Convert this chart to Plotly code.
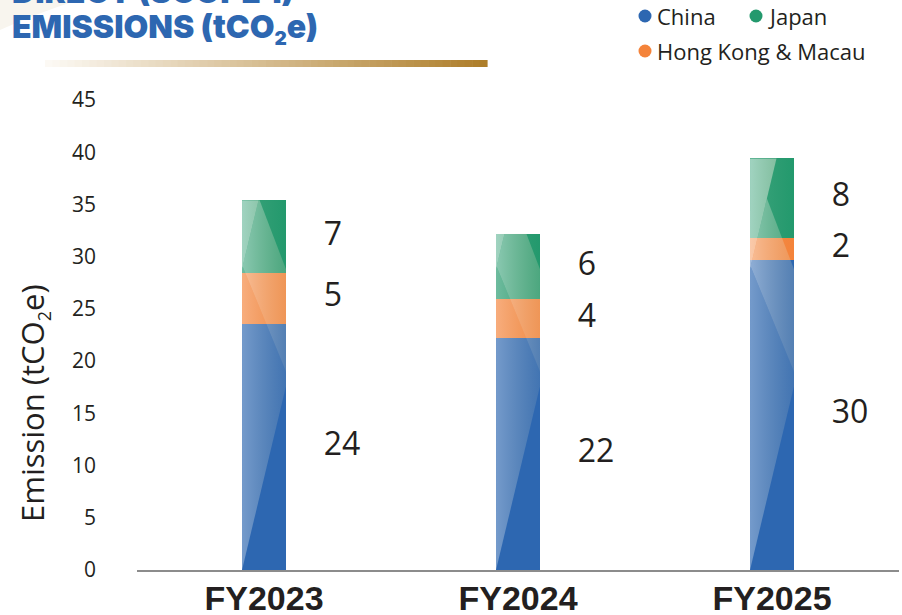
import plotly.graph_objects as go

# ---- data -------------------------------------------------------------
years = ["FY2023", "FY2024", "FY2025"]
china = [23.6, 22.2, 29.7]
hk_macau = [4.8, 3.7, 2.1]
japan = [7.0, 6.3, 7.6]

series_names = ["China", "Hong Kong & Macau", "Japan"]
series_values = [china, hk_macau, japan]
series_colors = ["#2D67B1", "#F4833A", "#23996D"]

y_ticks = [0, 5, 10, 15, 20, 25, 30, 35, 40, 45]

# ---- layout geometry (pixels) -----------------------------------------
FIG_W, FIG_H = 902, 615
M_L, M_R, M_T, M_B = 137, 3, 100, 45
PLOT_W = FIG_W - M_L - M_R
PLOT_H = FIG_H - M_T - M_B
BAR_W = 0.173
TEXT_FONT = "Open Sans"
INK = "#231F20"


def px_x(px):
    return (px - M_L) / PLOT_W


def px_y(py):
    return (FIG_H - M_B - py) / PLOT_H


x_pos = list(range(len(years)))
totals = [sum(v) for v in zip(*series_values)]

fig = go.Figure()

# stacked bars
for name, vals, col in zip(series_names, series_values, series_colors):
    fig.add_trace(go.Bar(
        x=x_pos, y=vals, name=name, width=BAR_W,
        marker=dict(color=col, line=dict(width=0)),
        showlegend=False, hoverinfo="skip",
    ))

# ---- glossy facet overlay on each bar -----------------------------------
# facet lines in (u across bar 0..1, v in axis units): v = intercept + slope*u
facet_lines = {
    "U0": (17.6, 0.0),
    "M1": (-10.2, 29.2),
    "M2": (-11.0, 39.8),
    "U1": (17.6, 28.8),
}
facet_regions = [
    ([("U0", 1), ("M1", -1), ("U1", -1)], 0.34, 0.12),
    ([("M1", 1), ("M2", -1), ("U1", -1)], 0.47, 0.22),
    ([("M2", 1), ("U1", -1)], 0.12, 0.0),
    ([("U1", 1)], 0.57, 0.42),
]


def clip_half(poly, a, b, c):
    out = []
    n = len(poly)
    for k in range(n):
        p, q = poly[k], poly[(k + 1) % n]
        fp = a * p[0] + b * p[1] + c
        fq = a * q[0] + b * q[1] + c
        if fp >= 0:
            out.append(p)
        if (fp >= 0) != (fq >= 0):
            t = fp / (fp - fq)
            out.append((p[0] + t * (q[0] - p[0]), p[1] + t * (q[1] - p[1])))
    return out


for xi, top in zip(x_pos, totals):
    left = xi - BAR_W / 2
    for conds, a0, a1 in facet_regions:
        poly = [(0, 0), (1, 0), (1, top), (0, top)]
        for key, side in conds:
            slope, icpt = facet_lines[key]
            poly = clip_half(poly, -slope * side, 1 * side, -icpt * side)
            if len(poly) < 3:
                break
        if len(poly) < 3:
            continue
        xs = [left + u * BAR_W for u, _ in poly] + [left + poly[0][0] * BAR_W]
        ys = [v for _, v in poly] + [poly[0][1]]
        fig.add_trace(go.Scatter(
            x=xs, y=ys, mode="lines", fill="toself",
            line=dict(width=0, color="rgba(0,0,0,0)"),
            fillgradient=dict(
                type="horizontal",
                colorscale=[[0, f"rgba(255,255,255,{a0})"],
                            [1, f"rgba(222,216,190,{a1})"]],
                start=left, stop=left + BAR_W,
            ),
            showlegend=False, hoverinfo="skip",
        ))

# value labels beside each segment
base = [0.0] * len(years)
for vals in series_values:
    mids = [b + v / 2 for b, v in zip(base, vals)]
    fig.add_trace(go.Scatter(
        x=[x + 0.235 for x in x_pos], y=mids, mode="text",
        customdata=vals, texttemplate="%{customdata:.0f}",
        textposition="middle right",
        textfont=dict(family=TEXT_FONT, size=32, color=INK),
        showlegend=False, hoverinfo="skip",
    ))
    base = [b + v for b, v in zip(base, vals)]

# ---- decorations: heading, underline, corner tint ----------------------
shapes = [dict(
    type="path", xref="paper", yref="paper", layer="below",
    path=(f"M {px_x(0)},{px_y(0)} L {px_x(78)},{px_y(0)} "
          f"Q {px_x(35)},{px_y(14)} {px_x(0)},{px_y(30)} Z"),
    fillcolor="#F8F5EE", line=dict(width=0),
)]
n_seg = 60
x0_line, x1_line = 45, 487
c_start, c_end = (252, 249, 244), (174, 126, 42)
for k in range(n_seg):
    t = k / (n_seg - 1)
    col = tuple(round(c_start[j] + (c_end[j] - c_start[j]) * t) for j in range(3))
    xa = x0_line + (x1_line - x0_line) * k / n_seg
    xb = x0_line + (x1_line - x0_line) * (k + 1) / n_seg + 0.6
    shapes.append(dict(
        type="rect", xref="paper", yref="paper",
        x0=px_x(xa), x1=px_x(xb), y0=px_y(67), y1=px_y(60),
        fillcolor=f"rgb{col}", line=dict(width=0), layer="above",
    ))

# legend: circle swatches with labels, in reading order
legend_items = [("China", series_colors[0], 645, 16),
                ("Japan", series_colors[2], 756, 16),
                ("Hong Kong &amp; Macau", series_colors[1], 645, 51)]
annotations = []
for label, col, cx, cy in legend_items:
    shapes.append(dict(
        type="circle", xref="paper", yref="paper",
        x0=px_x(cx - 6.5), x1=px_x(cx + 6.5),
        y0=px_y(cy + 6.5), y1=px_y(cy - 6.5),
        fillcolor=col, line=dict(width=0),
    ))
    annotations.append(dict(
        text=label, xref="paper", yref="paper",
        x=px_x(cx + 10), y=px_y(cy), xanchor="left", yanchor="middle",
        showarrow=False, font=dict(family=TEXT_FONT, size=22, color=INK),
    ))

title_font = dict(family="Inter", size=32, color="#2D67B1", weight=900)
sub2 = "<sub><span style='font-size:19px'>2</span></sub>"
annotations += [
    dict(text="DIRECT (SCOPE 1)", xref="paper", yref="paper",
         x=px_x(10), y=px_y(-9), xanchor="left", yanchor="middle",
         showarrow=False, font=title_font),
    dict(text=f"EMISSIONS (tCO{sub2}e)", xref="paper", yref="paper",
         x=px_x(10), y=px_y(5), xanchor="left", yanchor="top",
         showarrow=False, font=title_font),
    dict(text="Emission (tCO<sub><span style='font-size:18px'>2</span></sub>e)",
         xref="paper", yref="paper",
         x=px_x(33), y=px_y(403), xanchor="center", yanchor="middle",
         textangle=-90, showarrow=False,
         font=dict(family=TEXT_FONT, size=31, color=INK)),
]

fig.update_layout(
    width=FIG_W, height=FIG_H,
    margin=dict(l=M_L, r=M_R, t=M_T, b=M_B, pad=0),
    barmode="stack",
    paper_bgcolor="white", plot_bgcolor="white",
    font=dict(family=TEXT_FONT, color=INK),
    shapes=shapes, annotations=annotations,
    showlegend=False,
    xaxis=dict(
        range=[-0.5, 2.5], tickmode="array", tickvals=x_pos, ticktext=years,
        showline=True, linecolor="#8C8C8C", linewidth=2,
        ticks="", showgrid=False, zeroline=False, automargin=False,
        ticklabelstandoff=-3,
        tickfont=dict(family="Liberation Sans", size=34, color=INK, weight="bold"),
    ),
    yaxis=dict(
        range=[0, 45], tickmode="array", tickvals=y_ticks,
        showline=False, showgrid=False, zeroline=False, ticks="",
        ticklabelstandoff=40, automargin=False,
        tickfont=dict(family=TEXT_FONT, size=21, color=INK),
    ),
)

fig.write_html("out.html")
